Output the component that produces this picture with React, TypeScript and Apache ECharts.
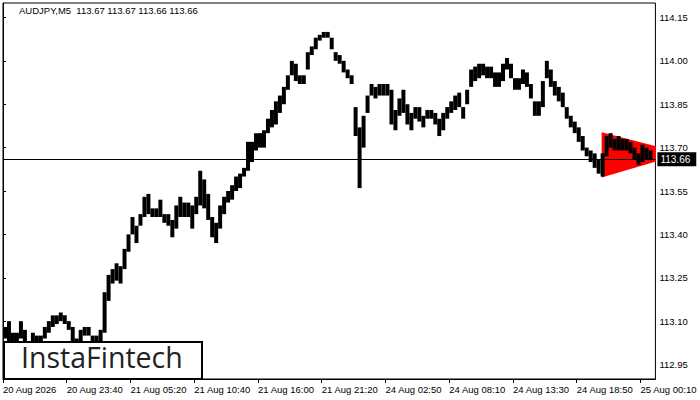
import React, { useEffect, useRef } from "react";
import * as echarts from "echarts";

const titleText = "AUDJPY,M5  113.67 113.67 113.66 113.66";
const logoText = "InstaFintech";
const tickLabels = ["20 Aug 2026", "20 Aug 23:40", "21 Aug 05:20", "21 Aug 10:40", "21 Aug 16:00", "21 Aug 21:20", "24 Aug 02:50", "24 Aug 08:10", "24 Aug 13:30", "24 Aug 18:50", "25 Aug 00:10"];
const priceTicks = [112.95, 113.1, 113.25, 113.4, 113.55, 113.7, 113.85, 114.0, 114.15];
const barsPerSlot = 4;
const barsPerLabel = 64;
const currentPrice = 113.66;

// high / low of each group of 4 M5 bars
const slotHigh = [
  113.08, 113.10, 113.06, 113.06, 113.10, 113.07, 113.03, 113.06, 113.05, 113.05,
  113.08, 113.10, 113.12, 113.12, 113.13, 113.12, 113.10, 113.08, 113.04, 113.07,
  113.08, 113.08, 113.05, 113.05, 113.07, 113.20, 113.26, 113.28, 113.30, 113.29,
  113.35, 113.40, 113.46, 113.43, 113.47, 113.53, 113.54, 113.49, 113.49, 113.52,
  113.47, 113.47, 113.45, 113.50, 113.53, 113.51, 113.51, 113.50, 113.53, 113.62,
  113.59, 113.54, 113.46, 113.44, 113.50, 113.53, 113.55, 113.57, 113.60, 113.61,
  113.63, 113.72, 113.72, 113.75, 113.75, 113.76, 113.80, 113.83, 113.86, 113.88,
  113.91, 113.95, 114.00, 113.99, 113.95, 113.95, 114.03, 114.05, 114.08, 114.09,
  114.10, 114.10, 114.08, 114.03, 114.02, 114.00, 113.97, 113.95, 113.84, 113.77,
  113.81, 113.88, 113.92, 113.91, 113.92, 113.92, 113.92, 113.90, 113.83, 113.87,
  113.90, 113.85, 113.82, 113.84, 113.84, 113.81, 113.83, 113.83, 113.82, 113.80,
  113.82, 113.84, 113.86, 113.88, 113.89, 113.84, 113.90, 113.97, 113.98, 113.99,
  113.99, 113.98, 113.98, 113.96, 113.96, 113.99, 114.01, 113.99, 113.94, 113.94,
  113.97, 113.96, 113.92, 113.86, 113.86, 113.93, 114.00, 113.97, 113.93, 113.91,
  113.89, 113.84, 113.81, 113.79, 113.77, 113.74, 113.70, 113.69, 113.68, 113.66,
  113.68, 113.74, 113.75, 113.73, 113.74, 113.73, 113.73, 113.72, 113.70, 113.68,
  113.71, 113.70, 113.69,
];
const slotLow = [
  113.04, 113.03, 113.03, 113.02, 113.04, 113.00, 112.99, 113.02, 113.01, 113.00,
  113.04, 113.06, 113.08, 113.09, 113.10, 113.09, 113.07, 112.99, 113.00, 113.02,
  113.05, 113.05, 112.99, 113.00, 113.03, 113.06, 113.17, 113.23, 113.24, 113.23,
  113.28, 113.34, 113.40, 113.37, 113.43, 113.46, 113.47, 113.46, 113.46, 113.46,
  113.44, 113.43, 113.39, 113.42, 113.46, 113.46, 113.46, 113.42, 113.47, 113.50,
  113.49, 113.45, 113.39, 113.37, 113.42, 113.47, 113.51, 113.52, 113.55, 113.56,
  113.60, 113.62, 113.65, 113.69, 113.70, 113.70, 113.75, 113.77, 113.78, 113.82,
  113.85, 113.90, 113.95, 113.93, 113.92, 113.92, 113.97, 114.02, 114.04, 114.07,
  114.08, 114.08, 114.04, 114.00, 113.99, 113.96, 113.94, 113.92, 113.74, 113.56,
  113.70, 113.82, 113.88, 113.87, 113.88, 113.88, 113.88, 113.78, 113.76, 113.81,
  113.82, 113.78, 113.76, 113.80, 113.79, 113.77, 113.80, 113.80, 113.78, 113.74,
  113.76, 113.80, 113.82, 113.83, 113.84, 113.80, 113.85, 113.91, 113.93, 113.94,
  113.95, 113.94, 113.94, 113.91, 113.91, 113.93, 113.97, 113.94, 113.90, 113.90,
  113.92, 113.91, 113.87, 113.81, 113.81, 113.84, 113.94, 113.91, 113.88, 113.86,
  113.84, 113.80, 113.77, 113.75, 113.72, 113.69, 113.67, 113.65, 113.63, 113.61,
  113.60, 113.67, 113.70, 113.69, 113.69, 113.69, 113.69, 113.68, 113.66, 113.64,
  113.65, 113.66, 113.66,
];

// symmetrical triangle pattern (bar index, price)
const patternX = [601, 601, 683];
const patternY = [113.753, 113.597, 113.68];

export default function App() {
  const ref = useRef<HTMLDivElement>(null);
  useEffect(() => {
    document.body.style.margin = "0";
    if (!ref.current) return;
    const chart = echarts.init(ref.current, undefined, { renderer: "svg" });
    const barData = slotHigh.map((h, i) => [i * barsPerSlot + barsPerSlot / 2, slotLow[i], h]);
    const font = "'Liberation Sans', Arial, sans-serif";
    chart.setOption({
      animation: false,
      backgroundColor: "#ffffff",
      grid: { left: 3, right: 41, top: 3, bottom: 21, show: true, borderColor: "#000", borderWidth: 1, backgroundColor: "#fff" },
      xAxis: {
        type: "value",
        min: 0,
        max: 655,
        interval: barsPerLabel,
        axisLine: { show: true, lineStyle: { color: "#000", width: 1 } },
        axisTick: { show: true, length: 4, lineStyle: { color: "#000" } },
        splitLine: { show: false },
        axisLabel: {
          showMaxLabel: false,
          align: "left",
          margin: 5,
          fontSize: 9.5,
          fontFamily: font,
          color: "#000",
          formatter: (v: number) => tickLabels[Math.round(v / barsPerLabel)] ?? "",
        },
      },
      yAxis: {
        type: "value",
        position: "right",
        min: 112.9,
        max: 114.2,
        axisLine: { show: true, lineStyle: { color: "#000", width: 1 } },
        axisTick: { show: true, length: 3, lineStyle: { color: "#000" }, customValues: priceTicks },
        splitLine: { show: false },
        axisLabel: {
          customValues: priceTicks,
          margin: 4,
          fontSize: 9.5,
          fontFamily: font,
          color: "#000",
          formatter: (v: number) => v.toFixed(2),
        },
      },
      series: [
        {
          type: "custom",
          clip: true,
          z: 1,
          data: [[0]],
          renderItem: (_p: any, api: any) => {
            const pts = patternX.map((x, i) => api.coord([x, patternY[i]]));
            return { type: "polygon", shape: { points: pts }, style: { fill: "#ff0000" } };
          },
          silent: true,
        },
        {
          type: "line",
          z: 2,
          data: [],
          markLine: {
            silent: true,
            symbol: "none",
            lineStyle: { color: "#000", width: 1, type: "solid" },
            label: {
              show: true,
              position: "end",
              distance: 2,
              formatter: currentPrice.toFixed(2),
              color: "#fff",
              backgroundColor: "#000",
              padding: [2, 6, 2, 3],
              fontSize: 10,
              fontFamily: font,
            },
            data: [{ yAxis: currentPrice }],
          },
        },
        {
          type: "custom",
          clip: true,
          z: 3,
          data: barData,
          renderItem: (_p: any, api: any) => {
            const x = api.value(0);
            const lo = api.value(1);
            const hi = api.value(2);
            const p1 = api.coord([x - barsPerSlot / 2, hi]);
            const p2 = api.coord([x + barsPerSlot / 2, lo]);
            return {
              type: "rect",
              shape: { x: p1[0], y: p1[1], width: p2[0] - p1[0], height: Math.max(1, p2[1] - p1[1]) },
              style: { fill: "#000" },
            };
          },
        },
      ],
      graphic: [
        { type: "text", left: 19, top: 5, style: { text: titleText, fontSize: 9.5, fontFamily: font, fill: "#000" } },
        { type: "rect", left: 3, top: 341, shape: { width: 198, height: 37 }, style: { fill: "#fff", stroke: "#000", lineWidth: 2 }, z: 10 },
        { type: "text", left: 21, top: 342, z: 11, style: { text: logoText, fontSize: 28.5, fontFamily: "'Open Sans', Lato, sans-serif", fill: "#222" } },
      ],
    });
    return () => chart.dispose();
  }, []);
  return <div ref={ref} style={{ width: 700, height: 400 }} />;
}
